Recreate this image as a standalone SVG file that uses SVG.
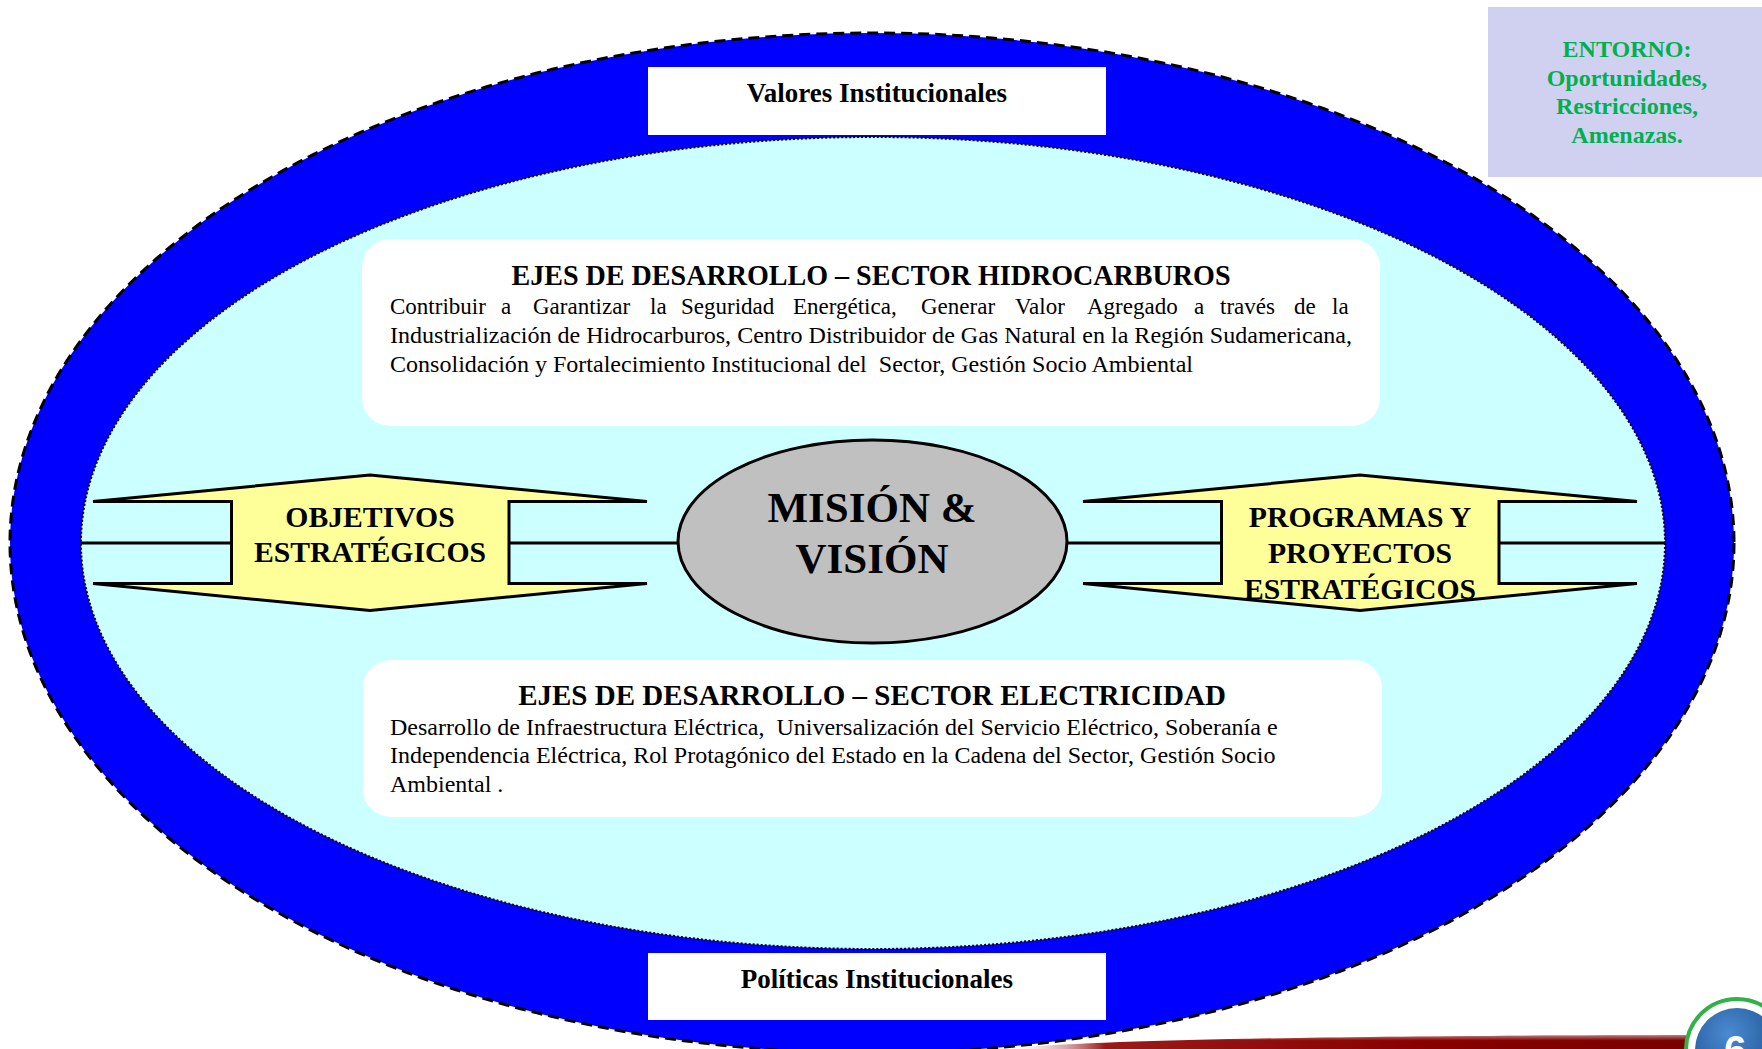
<svg xmlns="http://www.w3.org/2000/svg" width="1762" height="1049" viewBox="0 0 1762 1049">
<style>
.b{font-family:"Liberation Serif","Times New Roman",serif;font-weight:bold;fill:#000}
.r{font-family:"Liberation Serif","Times New Roman",serif;fill:#000;font-size:24px;white-space:pre}
.ln{stroke:#000;stroke-width:3;fill:none}
.arrow{fill:#FFFF99;stroke:#000;stroke-width:3;stroke-linejoin:miter}
.wbox{fill:#fff}
</style>
<defs>
<linearGradient id="redbar" x1="0" y1="0" x2="1" y2="0">
<stop offset="0" stop-color="#ffffff" stop-opacity="0"/>
<stop offset="0.15" stop-color="#9a1a1a"/>
<stop offset="0.6" stop-color="#8a0000"/>
<stop offset="1" stop-color="#7a0000"/>
</linearGradient>
<linearGradient id="redshade" x1="0" y1="0" x2="0" y2="1">
<stop offset="0" stop-color="#ffffff" stop-opacity="0.5"/>
<stop offset="0.4" stop-color="#ffffff" stop-opacity="0"/>
</linearGradient>
<radialGradient id="blueball" cx="0.4" cy="0.3" r="0.8">
<stop offset="0" stop-color="#4a8ad0"/>
<stop offset="1" stop-color="#174a8a"/>
</radialGradient>
</defs>
<rect width="1762" height="1049" fill="#fff"/>

<g id="environment">
<ellipse cx="872" cy="543" rx="862" ry="510" fill="#0000FF" stroke="#000" stroke-width="3" stroke-dasharray="11,6"/>
<ellipse cx="873" cy="543" rx="792" ry="406" fill="#CCFFFF" stroke="#000" stroke-width="2" stroke-dasharray="2,2"/>
</g>

<g id="valores">
<rect x="648" y="67" width="458" height="68" class="wbox"/>
<text x="877" y="102" class="b" font-size="27" text-anchor="middle">Valores Institucionales</text>
</g>

<g id="politicas">
<rect x="648" y="953" width="458" height="67" class="wbox"/>
<text x="877" y="988" class="b" font-size="27" text-anchor="middle">Políticas Institucionales</text>
</g>

<g id="entorno">
<rect x="1488" y="7" width="274" height="170" fill="#D0D0F0"/>
<g class="b" font-size="24" text-anchor="middle" style="fill:#00B050">
<text x="1627" y="57">ENTORNO:</text>
<text x="1627" y="86">Oportunidades,</text>
<text x="1627" y="114">Restricciones,</text>
<text x="1627" y="143">Amenazas.</text>
</g>
</g>

<g id="connectors">
<line x1="81" y1="543" x2="231.5" y2="543" class="ln"/>
<line x1="509" y1="543" x2="678" y2="543" class="ln"/>
<line x1="1067" y1="543" x2="1221.5" y2="543" class="ln"/>
<line x1="1499" y1="543" x2="1665" y2="543" class="ln"/>
</g>

<g id="hidrocarburos">
<rect x="362" y="239" width="1018" height="187" rx="28" ry="28" class="wbox"/>
<text x="871" y="285" class="b" font-size="29" text-anchor="middle" textLength="719" lengthAdjust="spacingAndGlyphs">EJES DE DESARROLLO – SECTOR HIDROCARBUROS</text>
<text y="314" class="r" font-size="23" style="font-size:23px"><tspan x="390">Contribuir</tspan><tspan x="501">a</tspan><tspan x="533">Garantizar</tspan><tspan x="650">la</tspan><tspan x="681">Seguridad</tspan><tspan x="793">Energética,</tspan><tspan x="921">Generar</tspan><tspan x="1015">Valor</tspan><tspan x="1087">Agregado</tspan><tspan x="1194">a</tspan><tspan x="1220">través</tspan><tspan x="1294">de</tspan><tspan x="1332">la</tspan></text>
<text x="390" y="343" class="r" textLength="962" lengthAdjust="spacingAndGlyphs">Industrialización de Hidrocarburos, Centro Distribuidor de Gas Natural en la Región Sudamericana,</text>
<text x="390" y="372" class="r" textLength="803" lengthAdjust="spacingAndGlyphs">Consolidación y Fortalecimiento Institucional del  Sector, Gestión Socio Ambiental</text>
</g>

<g id="electricidad">
<rect x="363" y="660" width="1019" height="157" rx="28" ry="28" class="wbox"/>
<text x="872" y="705" class="b" font-size="29" text-anchor="middle">EJES DE DESARROLLO – SECTOR ELECTRICIDAD</text>
<text x="390" y="735" class="r">Desarrollo de Infraestructura Eléctrica,  Universalización del Servicio Eléctrico, Soberanía e</text>
<text x="390" y="763" class="r">Independencia Eléctrica, Rol Protagónico del Estado en la Cadena del Sector, Gestión Socio</text>
<text x="390" y="792" class="r">Ambiental .</text>
</g>

<g id="objetivos">
<path class="arrow" d="M93,501.5 L370,475 L647,501.5 L509,501.5 L509,583.5 L647,583.5 L370,610.5 L93,583.5 L231.5,583.5 L231.5,501.5 Z"/>
<text x="370" y="527" class="b" font-size="29.7" text-anchor="middle">OBJETIVOS</text>
<text x="370" y="562" class="b" font-size="29.7" text-anchor="middle">ESTRATÉGICOS</text>
</g>

<g id="programas">
<path class="arrow" d="M1083,501.5 L1360,475 L1637,501.5 L1499,501.5 L1499,583.5 L1637,583.5 L1360,610.5 L1083,583.5 L1221.5,583.5 L1221.5,501.5 Z"/>
<text x="1360" y="527" class="b" font-size="29.7" text-anchor="middle">PROGRAMAS Y</text>
<text x="1360" y="562.5" class="b" font-size="29.7" text-anchor="middle">PROYECTOS</text>
<text x="1360" y="598.5" class="b" font-size="29.7" text-anchor="middle">ESTRATÉGICOS</text>
</g>

<g id="mision">
<ellipse cx="872.5" cy="541.5" rx="194.5" ry="101.5" fill="#C0C0C0" stroke="#000" stroke-width="3"/>
<text x="872" y="522" class="b" font-size="43" text-anchor="middle">MISIÓN &amp;</text>
<text x="872" y="573" class="b" font-size="43" text-anchor="middle">VISIÓN</text>
</g>

<g id="footer">
<path d="M1000,1049 C1100,1040 1300,1036 1700,1035 L1700,1049 Z" fill="url(#redbar)"/>
<path d="M1000,1049 C1100,1040 1300,1036 1700,1035 L1700,1049 Z" fill="url(#redshade)"/>
<circle cx="1737" cy="1050" r="51" fill="#fff" stroke="#33B04A" stroke-width="4"/>
<circle cx="1737" cy="1050" r="42" fill="url(#blueball)"/>
<text x="1735" y="1064" font-family="Liberation Sans, Arial, sans-serif" font-weight="bold" font-size="40" fill="#fff" text-anchor="middle">6</text>
</g>
</svg>
